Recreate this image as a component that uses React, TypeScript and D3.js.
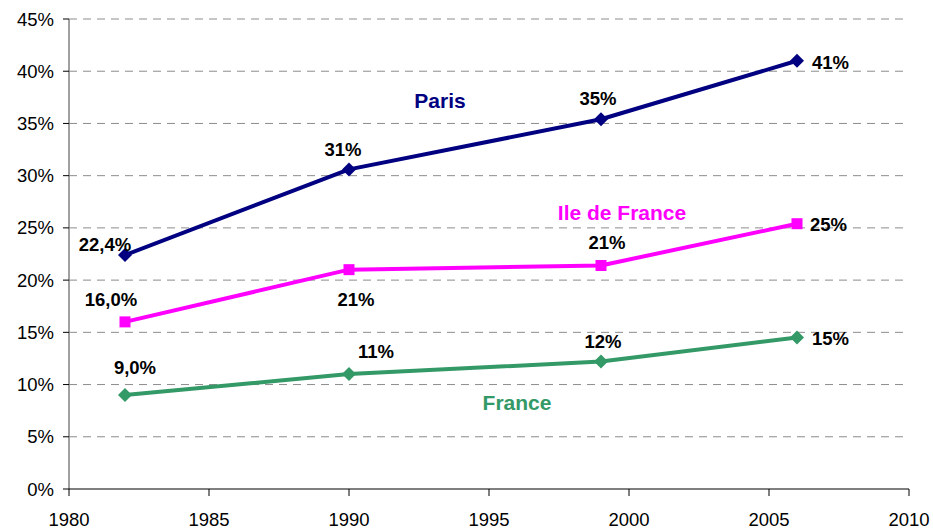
import React from "react";
import * as d3 from "d3";

const years = [1982, 1990, 1999, 2006];
const parisValues = [22.4, 30.6, 35.4, 41.0];
const idfValues = [16.0, 21.0, 21.4, 25.4];
const franceValues = [9.0, 11.0, 12.2, 14.5];
const parisLabels = ["22,4%", "31%", "35%", "41%"];
const idfLabels = ["16,0%", "21%", "21%", "25%"];
const franceLabels = ["9,0%", "11%", "12%", "15%"];
const xTicks = [1980, 1985, 1990, 1995, 2000, 2005, 2010];
const yTicks = [0, 5, 10, 15, 20, 25, 30, 35, 40, 45];

// label layout (offsets relative to points, in px)
const parisOffsets: [number, number, string][] = [[-20, -11, "middle"], [-6, -20, "middle"], [-3, -21, "middle"], [15, 2, "start"]];
const idfOffsets: [number, number, string][] = [[-14, -22, "middle"], [7, 30, "middle"], [6, -23, "middle"], [13, 1, "start"]];
const franceOffsets: [number, number, string][] = [[10, -28, "middle"], [27, -23, "middle"], [2, -20, "middle"], [15, 1, "start"]];

const W = 933, H = 529;
const x = d3.scaleLinear().domain([1980, 2010]).range([69, 909]);
const y = d3.scaleLinear().domain([0, 45]).range([489, 19]);
const FONT = "'Liberation Sans', Arial, sans-serif";

const series = [
  { name: "Paris", values: parisValues, labels: parisLabels, offsets: parisOffsets, color: "#000080", marker: "diamond", nameX: 440, nameY: 100 },
  { name: "Ile de France", values: idfValues, labels: idfLabels, offsets: idfOffsets, color: "#FF00FF", marker: "square", nameX: 622, nameY: 212 },
  { name: "France", values: franceValues, labels: franceLabels, offsets: franceOffsets, color: "#339966", marker: "diamond", nameX: 517, nameY: 402 },
];

export default function App() {
  const line = d3.line<[number, number]>().x(d => x(d[0])).y(d => y(d[1]));
  return (
    <svg width={W} height={H} style={{ position: "absolute", left: 0, top: 0, background: "#fff" }} fontFamily={FONT}>
      {yTicks.filter(t => t > 0).map(t => (
        <line key={"g" + t} x1={x(1980)} x2={x(2010)} y1={y(t)} y2={y(t)} stroke="#8c8c8c" strokeWidth={1} strokeDasharray="8,6" />
      ))}
      <line x1={x(1980)} x2={x(1980)} y1={y(45)} y2={y(0)} stroke="#808080" strokeWidth={1.5} />
      {yTicks.map(t => (
        <g key={"yt" + t}>
          <line x1={x(1980) - 6} x2={x(1980)} y1={y(t)} y2={y(t)} stroke="#000" strokeWidth={1} />
          <text x={54} y={y(t)} textAnchor="end" dominantBaseline="central" fontSize={18.5} fill="#000">{t}%</text>
        </g>
      ))}
      <line x1={x(1980)} x2={x(2010)} y1={y(0)} y2={y(0)} stroke="#000" strokeWidth={1.2} />
      {xTicks.map(t => (
        <g key={"xt" + t}>
          <line x1={x(t)} x2={x(t)} y1={y(0)} y2={y(0) + 7} stroke="#000" strokeWidth={1} />
          <text x={x(t)} y={519} textAnchor="middle" dominantBaseline="central" fontSize={18.5} fill="#000">{t}</text>
        </g>
      ))}
      {series.map(s => {
        const pts = years.map((yr, i) => [yr, s.values[i]] as [number, number]);
        return (
          <g key={s.name}>
            <path d={line(pts) || ""} fill="none" stroke={s.color} strokeWidth={4} strokeLinejoin="round" />
            {pts.map((p, i) => {
              const cx = x(p[0]), cy = y(p[1]);
              return s.marker === "diamond" ? (
                <path key={i} d={`M${cx},${cy - 7}L${cx + 7},${cy}L${cx},${cy + 7}L${cx - 7},${cy}Z`} fill={s.color} />
              ) : (
                <rect key={i} x={cx - 5.5} y={cy - 5.5} width={11} height={11} fill={s.color} />
              );
            })}
            {pts.map((p, i) => (
              <text key={"l" + i} x={x(p[0]) + s.offsets[i][0]} y={y(p[1]) + s.offsets[i][1]} textAnchor={s.offsets[i][2] as any}
                dominantBaseline="central" fontSize={18.5} fontWeight="bold" fill="#000">{s.labels[i]}</text>
            ))}
            <text x={s.nameX} y={s.nameY} textAnchor="middle" dominantBaseline="central" fontSize={21} fontWeight="bold" fill={s.color}>{s.name}</text>
          </g>
        );
      })}
    </svg>
  );
}
